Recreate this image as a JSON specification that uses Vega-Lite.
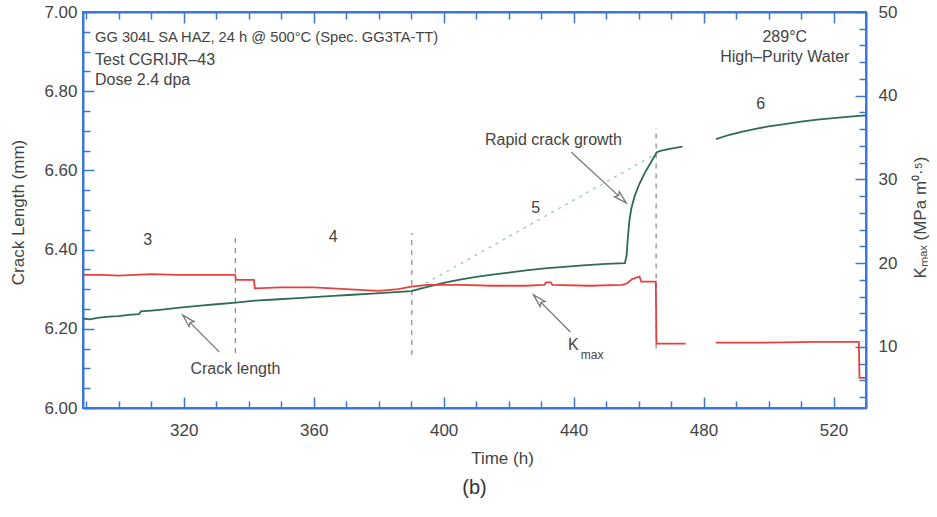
{
  "$schema": "https://vega.github.io/schema/vega-lite/v6.json",
  "width": 783,
  "height": 396,
  "autosize": {"type": "none"},
  "padding": {"left": 83, "top": 12, "right": 71, "bottom": 109},
  "background": "white",
  "config": {
    "view": {"stroke": "#3b78d6", "strokeWidth": 2},
    "font": "Liberation Sans",
    "axis": {
      "domainColor": "#3b78d6", "domainWidth": 2,
      "tickColor": "#3b78d6", "tickWidth": 1.5,
      "labelColor": "#444", "labelFontSize": 17, "labelFont": "Liberation Sans",
      "titleColor": "#444", "titleFontSize": 17, "titleFont": "Liberation Sans", "titleFontWeight": "normal",
      "grid": false, "labelOverlap": false, "labelFlush": false
    }
  },
  "title": {"text": "(b)", "orient": "bottom", "fontSize": 20, "fontWeight": "normal", "color": "#333", "font": "Liberation Sans", "offset": 12},
  "datasets": {
    "crack": [
      {"seg": 1, "t": 289, "L": 6.226}, {"seg": 1, "t": 291, "L": 6.224}, {"seg": 1, "t": 294, "L": 6.228},
      {"seg": 1, "t": 297, "L": 6.231}, {"seg": 1, "t": 300, "L": 6.232}, {"seg": 1, "t": 303, "L": 6.235},
      {"seg": 1, "t": 306.3, "L": 6.237}, {"seg": 1, "t": 306.8, "L": 6.244}, {"seg": 1, "t": 310, "L": 6.246},
      {"seg": 1, "t": 314, "L": 6.249}, {"seg": 1, "t": 318, "L": 6.253}, {"seg": 1, "t": 322, "L": 6.256},
      {"seg": 1, "t": 326, "L": 6.259}, {"seg": 1, "t": 330, "L": 6.262}, {"seg": 1, "t": 336, "L": 6.266},
      {"seg": 1, "t": 342, "L": 6.271}, {"seg": 1, "t": 348, "L": 6.274}, {"seg": 1, "t": 354, "L": 6.277},
      {"seg": 1, "t": 360, "L": 6.280}, {"seg": 1, "t": 366, "L": 6.283}, {"seg": 1, "t": 372, "L": 6.286},
      {"seg": 1, "t": 378, "L": 6.289}, {"seg": 1, "t": 384, "L": 6.292}, {"seg": 1, "t": 390, "L": 6.295},
      {"seg": 1, "t": 395, "L": 6.306}, {"seg": 1, "t": 400, "L": 6.316}, {"seg": 1, "t": 405, "L": 6.324},
      {"seg": 1, "t": 410, "L": 6.331}, {"seg": 1, "t": 415, "L": 6.337}, {"seg": 1, "t": 420, "L": 6.342},
      {"seg": 1, "t": 426, "L": 6.348}, {"seg": 1, "t": 432, "L": 6.353}, {"seg": 1, "t": 438, "L": 6.357},
      {"seg": 1, "t": 444, "L": 6.361}, {"seg": 1, "t": 450, "L": 6.364}, {"seg": 1, "t": 455.8, "L": 6.366},
      {"seg": 1, "t": 456.3, "L": 6.385}, {"seg": 1, "t": 456.7, "L": 6.43}, {"seg": 1, "t": 457.2, "L": 6.475},
      {"seg": 1, "t": 457.8, "L": 6.505}, {"seg": 1, "t": 458.8, "L": 6.535}, {"seg": 1, "t": 460.2, "L": 6.565},
      {"seg": 1, "t": 462, "L": 6.595}, {"seg": 1, "t": 464, "L": 6.623}, {"seg": 1, "t": 465.6, "L": 6.646},
      {"seg": 1, "t": 467, "L": 6.650}, {"seg": 1, "t": 470, "L": 6.655}, {"seg": 1, "t": 473.5, "L": 6.660},
      {"seg": 2, "t": 483.8, "L": 6.679}, {"seg": 2, "t": 488, "L": 6.690}, {"seg": 2, "t": 492, "L": 6.698},
      {"seg": 2, "t": 496, "L": 6.705}, {"seg": 2, "t": 500, "L": 6.711}, {"seg": 2, "t": 505, "L": 6.717},
      {"seg": 2, "t": 510, "L": 6.723}, {"seg": 2, "t": 515, "L": 6.728}, {"seg": 2, "t": 520, "L": 6.732},
      {"seg": 2, "t": 525, "L": 6.736}, {"seg": 2, "t": 530, "L": 6.739}
    ],
    "kmax": [
      {"seg": 1, "t": 289, "K": 18.6}, {"seg": 1, "t": 295, "K": 18.6}, {"seg": 1, "t": 300, "K": 18.5},
      {"seg": 1, "t": 310, "K": 18.7}, {"seg": 1, "t": 318, "K": 18.6}, {"seg": 1, "t": 326, "K": 18.6},
      {"seg": 1, "t": 335.8, "K": 18.6}, {"seg": 1, "t": 336.1, "K": 18.0}, {"seg": 1, "t": 341.6, "K": 18.0},
      {"seg": 1, "t": 341.9, "K": 17.0}, {"seg": 1, "t": 350, "K": 17.1}, {"seg": 1, "t": 360, "K": 17.1},
      {"seg": 1, "t": 370, "K": 16.9}, {"seg": 1, "t": 380, "K": 16.7}, {"seg": 1, "t": 386, "K": 16.9},
      {"seg": 1, "t": 390, "K": 17.2}, {"seg": 1, "t": 395, "K": 17.4}, {"seg": 1, "t": 405, "K": 17.4},
      {"seg": 1, "t": 415, "K": 17.3}, {"seg": 1, "t": 425, "K": 17.3}, {"seg": 1, "t": 431, "K": 17.4},
      {"seg": 1, "t": 431.5, "K": 17.7}, {"seg": 1, "t": 433, "K": 17.7}, {"seg": 1, "t": 433.5, "K": 17.4},
      {"seg": 1, "t": 445, "K": 17.3}, {"seg": 1, "t": 455, "K": 17.4}, {"seg": 1, "t": 456.5, "K": 17.6},
      {"seg": 1, "t": 458, "K": 18.1}, {"seg": 1, "t": 460.3, "K": 18.4}, {"seg": 1, "t": 460.8, "K": 17.8},
      {"seg": 1, "t": 465.3, "K": 17.8}, {"seg": 1, "t": 465.5, "K": 10.4}, {"seg": 1, "t": 474.5, "K": 10.4},
      {"seg": 2, "t": 483.8, "K": 10.5}, {"seg": 2, "t": 495, "K": 10.5}, {"seg": 2, "t": 505, "K": 10.55},
      {"seg": 2, "t": 515, "K": 10.6}, {"seg": 2, "t": 527.8, "K": 10.6}, {"seg": 2, "t": 528, "K": 6.3},
      {"seg": 2, "t": 530, "K": 6.3}
    ],
    "extrap": [{"t": 390.2, "L": 6.295}, {"t": 465.4, "L": 6.642}],
    "vlines": [
      {"t": 335.9, "L1": 6.139, "L2": 6.442},
      {"t": 390.2, "L1": 6.134, "L2": 6.442},
      {"t": 465.4, "L1": 6.15, "L2": 6.707}
    ],
    "arrows": [
      {"t1": 331.0, "L1": 6.141, "t2": 321.2, "L2": 6.222},
      {"t1": 439.0, "L1": 6.192, "t2": 429.2, "L2": 6.273},
      {"t1": 439.3, "L1": 6.646, "t2": 454.6, "L2": 6.530}
    ],
    "header1": [
      {"t": 292.7, "L": 6.934, "text": "GG 304L SA HAZ, 24 h @ 500°C (Spec. GG3TA-TT)"}
    ],
    "header2": [
      {"t": 292.7, "L": 6.879, "text": "Test CGRIJR–43"},
      {"t": 292.7, "L": 6.828, "text": "Dose 2.4 dpa"}
    ],
    "labels": [
      {"t": 505, "L": 6.937, "text": "289°C"},
      {"t": 505, "L": 6.886, "text": "High–Purity Water"},
      {"t": 335.9, "L": 6.098, "text": "Crack length"},
      {"t": 433.8, "L": 6.677, "text": "Rapid crack growth"},
      {"t": 308.9, "L": 6.424, "text": "3"},
      {"t": 366, "L": 6.432, "text": "4"},
      {"t": 428.3, "L": 6.505, "text": "5"},
      {"t": 497.6, "L": 6.768, "text": "6"},
      {"t": 439.9, "L": 6.159, "text": "K"}
    ],
    "sub": [{"t": 445.7, "L": 6.134, "text": "max"}]
  },
  "layer": [
    {
      "data": {"name": "extrap"},
      "mark": {"type": "line", "color": "#9fd0c6", "strokeWidth": 1.5, "strokeDash": [3, 5]},
      "encoding": {
        "x": {"field": "t", "type": "quantitative", "scale": {"domain": [289, 530], "nice": false, "zero": false}, "axis": null},
        "y": {"field": "L", "type": "quantitative", "scale": {"domain": [6, 7], "nice": false, "zero": false}, "axis": null}
      }
    },
    {
      "data": {"name": "vlines"},
      "mark": {"type": "rule", "color": "#888", "strokeWidth": 1.2, "strokeDash": [5, 5]},
      "encoding": {
        "x": {"field": "t", "type": "quantitative", "scale": {"domain": [289, 530], "nice": false, "zero": false}, "axis": null},
        "y": {"field": "L1", "type": "quantitative", "scale": {"domain": [6, 7], "nice": false, "zero": false}, "axis": null},
        "y2": {"field": "L2"}
      }
    },
    {
      "data": {"name": "crack"},
      "mark": {"type": "line", "color": "#2f6b55", "strokeWidth": 1.8},
      "encoding": {
        "x": {"field": "t", "type": "quantitative", "scale": {"domain": [289, 530], "nice": false, "zero": false},
          "axis": {"orient": "bottom", "values": [290,300,310,320,330,340,350,360,370,380,390,400,410,420,430,440,450,460,470,480,490,500,510,520,530],
            "labelExpr": "datum.value % 40 === 0 ? datum.label : ''",
            "tickSize": {"condition": {"test": "datum.value % 40 === 0", "value": -11}, "value": -7},
            "labelPadding": 25, "title": "Time (h)", "titleX": 419, "titleY": 50, "titleBaseline": "middle", "titleAlign": "center"}},
        "y": {"field": "L", "type": "quantitative", "scale": {"domain": [6, 7], "nice": false, "zero": false},
          "axis": {"orient": "left", "values": [6,6.05,6.1,6.15,6.2,6.25,6.3,6.35,6.4,6.45,6.5,6.55,6.6,6.65,6.7,6.75,6.8,6.85,6.9,6.95,7],
            "labelExpr": "abs(datum.value*5 - round(datum.value*5)) < 0.001 ? format(datum.value, '.2f') : ''",
            "tickSize": {"condition": {"test": "abs(datum.value*5 - round(datum.value*5)) < 0.001", "value": -11}, "value": -7},
            "labelPadding": 17, "title": "Crack Length (mm)", "titleX": -65, "titleY": 200, "titleAngle": 270, "titleBaseline": "middle", "titleAlign": "center"}},
        "detail": {"field": "seg", "type": "nominal"}
      }
    },
    {
      "data": {"name": "kmax"},
      "mark": {"type": "line", "color": "#e8403f", "strokeWidth": 1.8},
      "encoding": {
        "x": {"field": "t", "type": "quantitative", "scale": {"domain": [289, 530], "nice": false, "zero": false},
          "axis": {"orient": "top", "values": [290,300,310,320,330,340,350,360,370,380,390,400,410,420,430,440,450,460,470,480,490,500,510,520,530],
            "labels": false, "title": null,
            "tickSize": {"condition": {"test": "datum.value % 40 === 0", "value": -11}, "value": -7}}},
        "y": {"field": "K", "type": "quantitative", "scale": {"domain": [2.7, 50], "nice": false, "zero": false},
          "axis": {"orient": "right", "values": [4,6,8,10,12,14,16,18,20,22,24,26,28,30,32,34,36,38,40,42,44,46,48,50],
            "labelExpr": "datum.value % 10 === 0 ? datum.label : ''",
            "tickSize": {"condition": {"test": "datum.value % 10 === 0", "value": -11}, "value": -7},
            "labelPadding": 23, "title": "Kₘₐₓ (MPa m⁰·⁵)", "titleX": 54, "titleY": 205, "titleAngle": 270, "titleBaseline": "middle", "titleAlign": "center"}},
        "detail": {"field": "seg", "type": "nominal"}
      }
    },
    {
      "data": {"name": "arrows"},
      "mark": {"type": "rule", "color": "#777", "strokeWidth": 1.3},
      "encoding": {
        "x": {"field": "t1", "type": "quantitative", "scale": {"domain": [289, 530], "nice": false, "zero": false}, "axis": null},
        "y": {"field": "L1", "type": "quantitative", "scale": {"domain": [6, 7], "nice": false, "zero": false}, "axis": null},
        "x2": {"field": "t2"},
        "y2": {"field": "L2"}
      }
    },
    {
      "data": {"values": [{"t": 321.2, "L": 6.222}, {"t": 429.2, "L": 6.273}]},
      "mark": {"type": "point", "shape": "M0,-1L0.5,0.8L0,0.5L-0.5,0.8Z", "size": 200, "angle": 315, "filled": true, "fill": "white", "stroke": "#777", "strokeWidth": 1.3, "opacity": 1},
      "encoding": {
        "x": {"field": "t", "type": "quantitative", "scale": {"domain": [289, 530], "nice": false, "zero": false}, "axis": null},
        "y": {"field": "L", "type": "quantitative", "scale": {"domain": [6, 7], "nice": false, "zero": false}, "axis": null}
      }
    },
    {
      "data": {"values": [{"t": 454.6, "L": 6.530}]},
      "mark": {"type": "point", "shape": "M0,-1L0.5,0.8L0,0.5L-0.5,0.8Z", "size": 200, "angle": 133, "filled": true, "fill": "white", "stroke": "#777", "strokeWidth": 1.3, "opacity": 1},
      "encoding": {
        "x": {"field": "t", "type": "quantitative", "scale": {"domain": [289, 530], "nice": false, "zero": false}, "axis": null},
        "y": {"field": "L", "type": "quantitative", "scale": {"domain": [6, 7], "nice": false, "zero": false}, "axis": null}
      }
    },
    {
      "data": {"name": "header1"},
      "mark": {"type": "text", "align": "left", "baseline": "middle", "fontSize": 14.7, "color": "#444", "font": "Liberation Sans"},
      "encoding": {
        "x": {"field": "t", "type": "quantitative", "scale": {"domain": [289, 530], "nice": false, "zero": false}, "axis": null},
        "y": {"field": "L", "type": "quantitative", "scale": {"domain": [6, 7], "nice": false, "zero": false}, "axis": null},
        "text": {"field": "text"}
      }
    },
    {
      "data": {"name": "header2"},
      "mark": {"type": "text", "align": "left", "baseline": "middle", "fontSize": 16, "color": "#444", "font": "Liberation Sans"},
      "encoding": {
        "x": {"field": "t", "type": "quantitative", "scale": {"domain": [289, 530], "nice": false, "zero": false}, "axis": null},
        "y": {"field": "L", "type": "quantitative", "scale": {"domain": [6, 7], "nice": false, "zero": false}, "axis": null},
        "text": {"field": "text"}
      }
    },
    {
      "data": {"name": "labels"},
      "mark": {"type": "text", "align": "center", "baseline": "middle", "fontSize": 16, "color": "#444", "font": "Liberation Sans"},
      "encoding": {
        "x": {"field": "t", "type": "quantitative", "scale": {"domain": [289, 530], "nice": false, "zero": false}, "axis": null},
        "y": {"field": "L", "type": "quantitative", "scale": {"domain": [6, 7], "nice": false, "zero": false}, "axis": null},
        "text": {"field": "text"}
      }
    },
    {
      "data": {"name": "sub"},
      "mark": {"type": "text", "align": "center", "baseline": "middle", "fontSize": 12, "color": "#444", "font": "Liberation Sans"},
      "encoding": {
        "x": {"field": "t", "type": "quantitative", "scale": {"domain": [289, 530], "nice": false, "zero": false}, "axis": null},
        "y": {"field": "L", "type": "quantitative", "scale": {"domain": [6, 7], "nice": false, "zero": false}, "axis": null},
        "text": {"field": "text"}
      }
    }
  ],
  "resolve": {"scale": {"y": "independent"}, "axis": {"x": "independent", "y": "independent"}}
}
